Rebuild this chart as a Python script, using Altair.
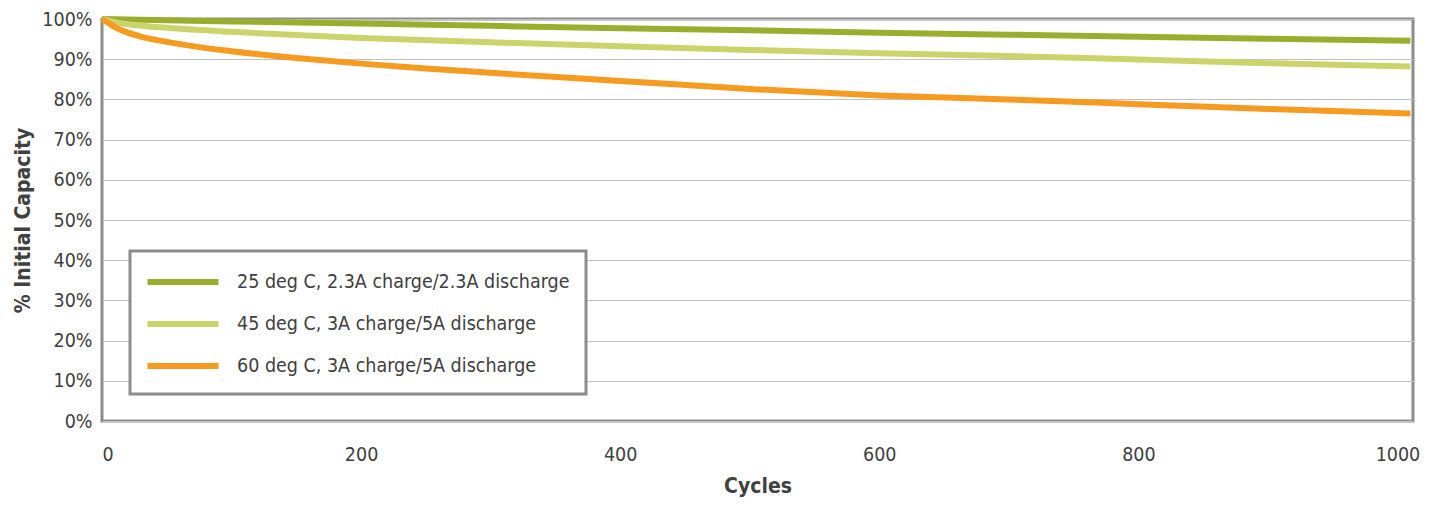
import altair as alt
import pandas as pd

series_names = [
    "25 deg C, 2.3A charge/2.3A discharge",
    "45 deg C, 3A charge/5A  discharge",
    "60 deg C, 3A charge/5A  discharge",
]
series_colors = ["#99ae2c", "#cbd46b", "#f79a20"]

cycles_25 = [0, 50, 100, 200, 300, 400, 500, 600, 700, 800, 900, 1010]
cap_25 = [100, 99.7, 99.4, 98.9, 98.3, 97.7, 97.2, 96.6, 96.1, 95.6, 95.1, 94.6]

cycles_45 = [0, 10, 25, 50, 100, 150, 200, 300, 400, 500, 600, 700, 800, 900, 1010]
cap_45 = [100, 99.2, 98.5, 97.8, 96.8, 96.0, 95.3, 94.2, 93.2, 92.3, 91.5, 90.8, 89.9, 89.0, 88.2]

cycles_60 = [0, 5, 10, 20, 30, 50, 75, 100, 150, 200, 250, 300, 400, 500, 600, 700, 800, 900, 1010]
cap_60 = [100, 99.0, 98.0, 96.6, 95.6, 94.3, 93.0, 92.0, 90.3, 88.9, 87.7, 86.6, 84.6, 82.6, 81.0, 80.0, 78.8, 77.6, 76.5]

y_ticks = [0, 10, 20, 30, 40, 50, 60, 70, 80, 90, 100]
x_ticks = [0, 200, 400, 600, 800, 1000]

rows = []
for name, xs, ys in zip(series_names, [cycles_25, cycles_45, cycles_60], [cap_25, cap_45, cap_60]):
    for c, v in zip(xs, ys):
        rows.append({"series": name, "cycles": c, "capacity": v})
df = pd.DataFrame(rows)

FONT = "DejaVu Sans Condensed, DejaVu Sans, sans-serif"

chart = alt.Chart(df).mark_line(strokeWidth=6, interpolate="monotone").encode(
    x=alt.X("cycles:Q", scale=alt.Scale(domain=[0, 1012], nice=False),
            axis=alt.Axis(values=x_ticks, title="Cycles", grid=False, labelPadding=24,
                          format="d", titlePadding=12)),
    y=alt.Y("capacity:Q", scale=alt.Scale(domain=[0, 100], nice=False),
            axis=alt.Axis(values=y_ticks, title="% Initial Capacity", grid=True,
                          labelExpr="datum.value + '%'", labelPadding=10, titlePadding=8)),
    color=alt.Color("series:N",
                    scale=alt.Scale(domain=series_names, range=series_colors),
                    legend=alt.Legend(title=None, orient="none", legendX=28, legendY=232,
                                      symbolType="M-3,0H3", symbolSize=560,
                                      symbolStrokeWidth=6, labelOffset=39,
                                      symbolOffset=22, padding=16, rowPadding=15,
                                      labelFontSize=19.5, labelColor="#404040",
                                      labelFont=FONT, labelLimit=600,
                                      fillColor="white", strokeColor="#8c8c8c")),
).properties(
    width=1311, height=402,
    autosize=alt.AutoSizeParams(type="none"),
    padding={"left": 94, "top": 11, "right": 8, "bottom": 79},
).configure_view(
    stroke="#8c8c8c", strokeWidth=3,
).configure_axis(
    domain=False, ticks=False, labelFont=FONT, titleFont=FONT,
    labelFontSize=19.5, labelColor="#404040", titleFontSize=21, titleColor="#404040",
    titleFontWeight="bold", gridColor="#c0c0c0", gridWidth=1.2,
).configure_legend(
    strokeWidth=3,
)

chart.save("out.html", embed_options={"renderer": "svg", "actions": False})
